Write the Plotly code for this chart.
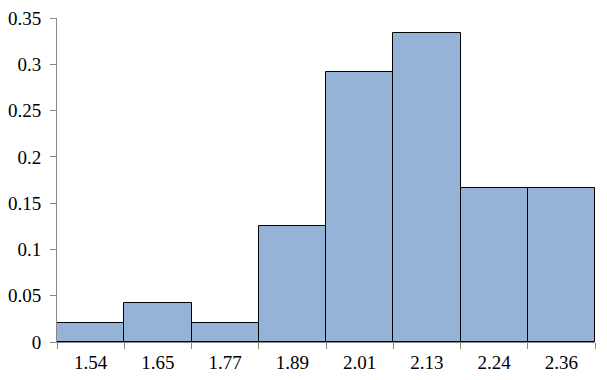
import plotly.graph_objects as go

categories = ["1.54", "1.65", "1.77", "1.89", "2.01", "2.13", "2.24", "2.36"]
values = [0.0208, 0.0417, 0.0208, 0.125, 0.2917, 0.3333, 0.1667, 0.1667]
y_ticks = [0, 0.05, 0.1, 0.15, 0.2, 0.25, 0.3, 0.35]
y_labels = ["0", "0.05", "0.1", "0.15", "0.2", "0.25", "0.3", "0.35"]

fig = go.Figure(go.Bar(
    x=categories, y=values,
    marker=dict(color="#95b3d7", line=dict(color="black", width=1)),
))
fig.update_layout(
    width=607, height=380,
    margin=dict(l=57, r=12, t=18, b=38, autoexpand=False),
    plot_bgcolor="white", paper_bgcolor="white",
    bargap=0, showlegend=False,
    font=dict(family="Liberation Serif", size=19, color="black"),
)
fig.update_xaxes(
    type="category", tickson="boundaries", ticks="outside", ticklen=6,
    tickcolor="#888", showline=True, linecolor="#888", showgrid=False,
    automargin=False, ticklabelstandoff=3,
)
fig.update_yaxes(
    range=[0, 0.35], tickvals=y_ticks, ticktext=y_labels, ticks="outside",
    ticklen=6, tickcolor="#888", showline=True, linecolor="#888",
    showgrid=False, zeroline=False, automargin=False, ticklabelstandoff=5,
)
fig.write_html("out.html", config={"displayModeBar": False},
               post_script="document.body.style.margin='0';")
